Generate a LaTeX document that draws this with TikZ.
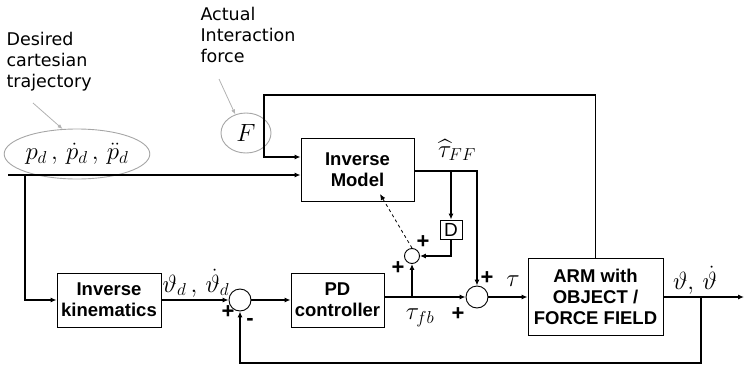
\documentclass[tikz,border=0pt]{standalone}
\usepackage{amsmath}
\usepackage{fontspec}
\setmainfont{Liberation Sans}
\newfontfamily\notefont{DejaVu Sans}
\usetikzlibrary{arrows.meta,shapes.geometric}
\tikzset{
  blk/.style={draw,line width=0.9pt,align=center,inner sep=2pt,
    font=\fontsize{18.5}{21}\selectfont\bfseries},
  sumj/.style={circle,draw,line width=0.9pt,inner sep=0pt,minimum size=22pt},
  sig/.style={line width=1.1pt,-{Latex[length=6pt,width=5pt]}},
  note/.style={anchor=north west,align=left,font=\fontsize{17.5}{21}\selectfont\notefont},
  gnote/.style={gray!60,line width=0.8pt,-{Latex[length=5pt,width=4pt]}},
  oval/.style={ellipse,draw=gray!70,line width=0.9pt,inner sep=0pt},
  sgn/.style={font=\fontsize{22}{22}\selectfont\bfseries,inner sep=0pt},
  lbl/.style={font=\fontsize{24}{24}\selectfont,inner sep=0pt},
}

\begin{document}
\begin{tikzpicture}[x=1pt,y=-1pt]
  \useasboundingbox (0,0) rectangle (745,367);
  % blocks
  \node[blk,minimum width=113pt,minimum height=63pt] (im) at (357.5,169.5) {Inverse\\Model};
  \node[blk,minimum width=104pt,minimum height=54pt] (ik) at (109,300) {Inverse\\kinematics};
  \node[blk,minimum width=93pt,minimum height=54pt] (pd) at (337.5,300) {PD\\controller};
  \node[blk,minimum width=135pt,minimum height=77pt] (arm) at (595.5,296.5) {ARM with\\OBJECT /\\FORCE FIELD};
  \node[draw,line width=0.9pt,minimum width=22pt,minimum height=19pt,inner sep=0pt,
    font=\fontsize{19}{19}\selectfont] (dd) at (451,229.5) {D};
  \node[sumj] (s1) at (240,300) {};
  \node[sumj] (s2) at (477,297) {};
  \node[sumj,minimum size=15pt] (s3) at (412,256) {};
  % annotations
  \node[note] (dt) at (3,29) {Desired\\cartesian\\trajectory};
  \node[note] (af) at (197,4) {Actual\\Interaction\\force};
  \node[oval,minimum width=130pt,minimum height=50pt,font=\fontsize{27}{27}\selectfont] (pe) at (77,154)
    {$p_d\,,\,\dot p_d\,,\,\ddot p_d$};
  \node[oval,minimum width=50pt,minimum height=40pt,font=\fontsize{27}{27}\selectfont] (fe) at (246,133) {$F$};
  \coordinate (dta) at (33,103);
  \coordinate (afa) at (219,79);
  \draw[gnote] (dta) -- (pe.120);
  \draw[gnote] (afa) -- (fe.120);
  % signals
  \coordinate (in) at (8,175);
  \coordinate (b1) at (25,175);
  \coordinate (fl) at (264,95);
  \coordinate (tf) at (451,171);
  \coordinate (tb) at (412,297);
  \coordinate (tq) at (701,297);
  \coordinate (fb) at (240,363);
  \coordinate (out) at (744,297);
  \coordinate (imd) at (380,194);
  \draw[sig] (in) -- (in -| im.west);
  \draw[sig] (b1) |- (ik.west);
  \draw[sig] (arm.north) |- (fl) |- ([yshift=12.5pt]im.west);
  \draw[sig] ([yshift=-1.5pt]im.east) -| (s2.north);
  \draw[sig] (tf) -- (dd.north);
  \draw[sig] (dd.south) |- (s3.east);
  \draw[sig] (ik.east) -- (s1.west);
  \draw[sig] (s1.east) -- (pd.west);
  \draw[sig] (pd.east |- s2) -- (s2.west);
  \draw[sig] (tb) -- (s3.south);
  \draw[sig,line width=0.8pt,dashed] (s3.north) -- (imd);
  \draw[sig] (s2.east) -- (arm.west |- s2);
  \draw[sig] (arm.east |- s2) -- (out);
  \draw[sig] (tq) |- (fb) -- (s1.south);
  % labels
  \node[lbl] (tff) at (457,150) {$\widehat{\tau}_{FF}$};
  \node[lbl] (thd) at (196,283) {$\vartheta_d\,,\,\dot\vartheta_d$};
  \node[lbl] (th) at (695,280) {$\vartheta,\,\dot\vartheta$};
  \node[lbl] (tfb) at (420,318) {$\tau_{fb}$};
  \node[lbl] (tau) at (513,281) {$\tau$};
  \node[sgn] (p1) at (228,312) {+};
  \node[sgn] (m1) at (250,322) {-};
  \node[sgn] (p2) at (458,314) {+};
  \node[sgn] (p3) at (487,278) {+};
  \node[sgn] (p4) at (398,268) {+};
  \node[sgn] (p5) at (423,242) {+};
\end{tikzpicture}
\end{document}
